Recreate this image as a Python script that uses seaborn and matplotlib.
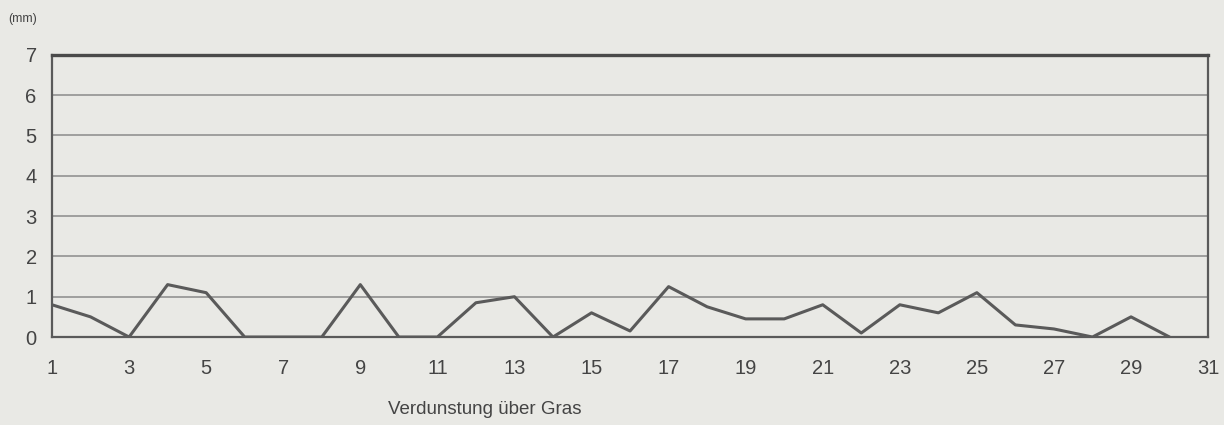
import seaborn as sns
import matplotlib.pyplot as plt
import pandas as pd

# daily evaporation over grass (mm), day 31 has no value
days = list(range(1, 31))
evap = [0.8, 0.5, 0.0, 1.3, 1.1, 0.0, 0.0, 0.0, 1.3, 0.0,
        0.0, 0.85, 1.0, 0.0, 0.6, 0.15, 1.25, 0.75, 0.45, 0.45,
        0.8, 0.1, 0.8, 0.6, 1.1, 0.3, 0.2, 0.0, 0.5, 0.0]
xticks = list(range(1, 32, 2))
yticks = list(range(0, 8))

data = pd.DataFrame({'Tag': days, 'Verdunstung': evap})

sns.set_style('white')
plt.rcParams['font.family'] = ['Liberation Sans', 'DejaVu Sans']
bg = '#e9e9e5'
ink = '#5a5a5a'

fig = plt.figure(figsize=(12.24, 4.25), dpi=100, facecolor=bg)
ax = fig.add_axes([0.0425, 0.207, 0.9445, 0.664], facecolor=bg)

# horizontal rules
for y in yticks[1:-1]:
    ax.axhline(y, color='#8a8a8a', lw=1.1, zorder=1)

sns.lineplot(data=data, x='Tag', y='Verdunstung', ax=ax, color=ink, lw=2.2, zorder=3)

ax.set_xlim(1, 31)
ax.set_ylim(0, 7)
ax.set_xticks(xticks)
ax.set_yticks(yticks)
ax.tick_params(axis='both', colors=ink, labelcolor='#444444', labelsize=14.5,
               length=4, width=1)
ax.tick_params(axis='x', pad=12)
ax.tick_params(axis='y', pad=7)
for side in ['left', 'right', 'bottom']:
    ax.spines[side].set_color(ink)
    ax.spines[side].set_linewidth(1.6)
ax.spines['top'].set_color('#4a4a4a')
ax.spines['top'].set_linewidth(2.4)
ax.set_xlabel('')
ax.set_ylabel('')

fig.text(0.007, 0.955, '(mm)', fontsize=9, color='#444444', ha='left', va='center')
fig.text(0.396, 0.037, 'Verdunstung über Gras', fontsize=13.5, color='#444444',
         ha='center', va='center')

fig.savefig('out.png', dpi=100, facecolor=bg)
